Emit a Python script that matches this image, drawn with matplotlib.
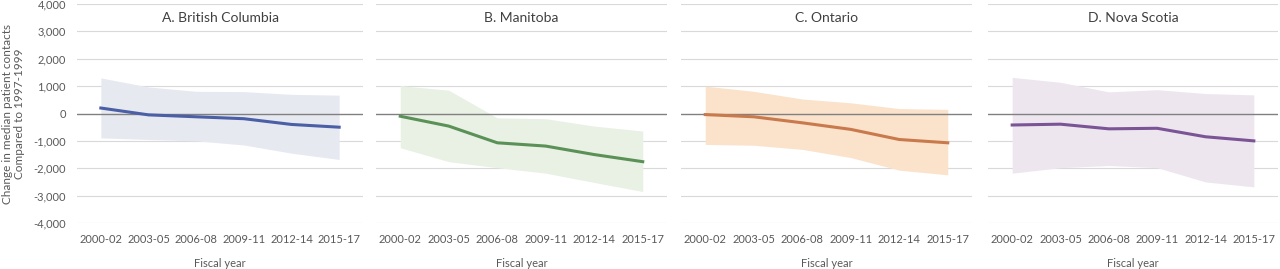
import numpy as np
import matplotlib.pyplot as plt

plt.rcParams['font.family'] = ['Lato', 'DejaVu Sans']

periods = ["2000-02", "2003-05", "2006-08", "2009-11", "2012-14", "2015-17"]

titles = ["A. British Columbia", "B. Manitoba", "C. Ontario", "D. Nova Scotia"]

bc_mid = [200, -50, -120, -190, -400, -500]
bc_hi = [1300, 970, 810, 800, 700, 670]
bc_lo = [-890, -950, -1000, -1150, -1450, -1680]

mb_mid = [-100, -460, -1070, -1190, -1500, -1760]
mb_hi = [1020, 850, -160, -190, -460, -640]
mb_lo = [-1250, -1760, -1980, -2180, -2520, -2850]

on_mid = [-40, -120, -340, -580, -950, -1070]
on_hi = [1000, 810, 530, 390, 180, 150]
on_lo = [-1130, -1160, -1310, -1610, -2070, -2240]

ns_mid = [-420, -390, -560, -540, -850, -1000]
ns_hi = [1320, 1140, 790, 870, 730, 680]
ns_lo = [-2180, -1980, -1900, -1980, -2500, -2680]

line_colors = ["#4B5FA6", "#5A9157", "#C97A4C", "#7B5495"]
band_colors = ["#E7E9F1", "#E9F1E4", "#FBE2CB", "#EDE6EF"]

series = [
    (bc_mid, bc_lo, bc_hi),
    (mb_mid, mb_lo, mb_hi),
    (on_mid, on_lo, on_hi),
    (ns_mid, ns_lo, ns_hi),
]

# panel positions (left, width) in figure fraction
lefts = [77, 376, 681, 988]
widths = [286, 291, 291, 290]

fig = plt.figure(figsize=(12.8, 2.69), dpi=100)
x = np.arange(len(periods))

for i, (mid, lo, hi) in enumerate(series):
    ax = fig.add_axes([lefts[i] / 1280, 46 / 269, widths[i] / 1280, 219 / 269])
    ax.fill_between(x, lo, hi, color=band_colors[i], lw=0, zorder=1)
    for yv in range(-4000, 4001, 1000):
        if yv == 0:
            continue
        ax.axhline(yv, color="#D9D9D9", lw=0.8, zorder=0)
    ax.axhline(0, color="#808080", lw=1.0, zorder=2)
    ax.plot(x, mid, color=line_colors[i], lw=2.2, zorder=3)
    ax.set_xlim(-0.5, 5.5)
    ax.set_ylim(-4000, 4000)
    for s in ax.spines.values():
        s.set_visible(False)
    ax.set_xticks(x)
    ax.set_xticklabels(periods, fontsize=8, color="#595959")
    ax.tick_params(length=0, pad=8)
    ax.set_yticks(range(-4000, 4001, 1000))
    if i == 0:
        ax.set_yticklabels([f"{v:,}" for v in range(-4000, 4001, 1000)],
                           fontsize=8, color="#595959")
        ax.set_ylabel("Change in median patient contacts\nCompared to 1997-1999",
                      fontsize=8.5, color="#595959", labelpad=6, linespacing=1.1)
    else:
        ax.set_yticklabels([])
    ax.set_xlabel("Fiscal year", fontsize=8, color="#595959", labelpad=9)
    ax.text(2.5, 3500, titles[i], ha="center", va="center", fontsize=10,
            color="#404040")

fig.savefig("out.png", dpi=100)
